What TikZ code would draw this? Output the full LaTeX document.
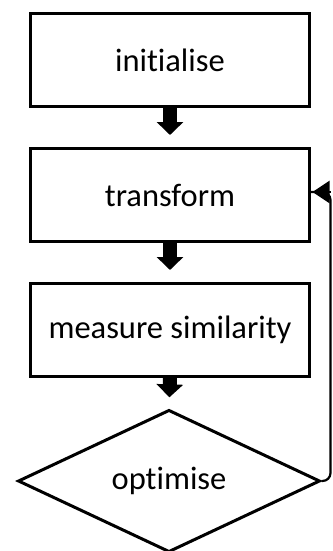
\documentclass[tikz,border=0pt]{standalone}
\usepackage{fontspec}
\setmainfont{Carlito}[Ligatures=NoCommon]
\usetikzlibrary{shapes.geometric,arrows.meta}
\begin{document}
\begin{tikzpicture}[x=1pt,y=-1pt,
  stepbox/.style={draw=black,line width=3pt,fill=white,minimum width=279pt,minimum height=93pt,inner sep=0pt,font=\fontsize{32.5}{38}\selectfont},
  decision/.style={diamond,draw=black,line width=3pt,fill=white,minimum width=302pt,minimum height=138pt,inner sep=0pt,font=\fontsize{32.5}{38}\selectfont},
  blockarrow/.style={line width=14pt,-{Triangle[width=26pt,length=13pt]},shorten >=12pt},
  loopline/.style={line width=2.2pt,rounded corners=8pt},
  loopback/.style={line width=2.2pt,-{Triangle[length=17pt,width=22pt]}}]
  \useasboundingbox (0,0) rectangle (332,551);
  \node[stepbox] (init) at (170,60) {initialise};
  \node[stepbox] (trans) at (170,195) {transform};
  \node[stepbox] (meas) at (170,330) {measure similarity};
  \node[decision] (opt) at (169,481) {optimise};
  \coordinate (rt) at (330.5,481);
  \coordinate (tp) at (330.5,192);
  % block arrows between the steps
  \draw[blockarrow] (init.south) -- (trans.north);
  \draw[blockarrow] (trans.south) -- (meas.north);
  \draw[blockarrow] (meas.south) -- ([yshift=-1pt]opt.north);
  % feedback from the decision back to the transform step
  \draw[loopline] (opt.east) -- (rt) -- (tp) -- (trans.east |- tp);
  \draw[loopback] (tp) -- ([xshift=1.5pt]trans.east |- tp);
\end{tikzpicture}
\end{document}
